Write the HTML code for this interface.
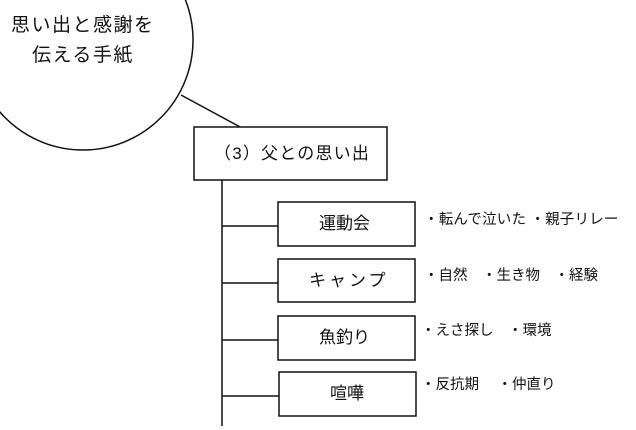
<!DOCTYPE html>
<html><head><meta charset="utf-8"><style>
body{margin:0;width:636px;height:430px;background:#fff;overflow:hidden;position:relative;font-family:"Liberation Sans","Noto Sans CJK JP",sans-serif;color:#111}
.t{position:absolute;white-space:nowrap;line-height:1}
</style></head><body>
<svg width="636" height="430" style="position:absolute;left:0;top:0">
<g fill="none" stroke="#111" stroke-width="1.5">
<circle cx="83" cy="40" r="110"/>
<line x1="181" y1="95" x2="242" y2="128"/>
<rect x="194" y="127" width="193" height="53" fill="#fff"/>
<line x1="222" y1="180" x2="222" y2="426"/>
<line x1="222" y1="226" x2="278" y2="226"/>
<line x1="222" y1="283" x2="278" y2="283"/>
<line x1="222" y1="340" x2="278" y2="340"/>
<line x1="222" y1="396" x2="279" y2="396"/>
<rect x="278" y="202" width="137" height="44"/>
<rect x="278" y="259" width="137" height="43"/>
<rect x="278" y="316" width="137" height="44"/>
<rect x="279" y="372" width="137" height="44"/>
</g></svg>
<div class="t" style="left:11px;top:16px;font-size:19px;letter-spacing:1.5px">思い出と感謝を</div>
<div class="t" style="left:32px;top:46px;font-size:19px;letter-spacing:1.5px">伝える手紙</div>
<div class="t" style="left:214px;top:145px;font-size:17px;letter-spacing:1.2px">（3）父との思い出</div>
<div class="t" style="left:319px;top:215px;font-size:17px">運動会</div>
<div class="t" style="left:309px;top:272px;font-size:17px;letter-spacing:3px">キャンプ</div>
<div class="t" style="left:319px;top:329px;font-size:17px">魚釣り</div>
<div class="t" style="left:330px;top:385px;font-size:17px">喧嘩</div>
<div class="t" style="left:424px;top:213px;font-size:14.5px;letter-spacing:0.2px">・転んで泣いた ・親子リレー</div>
<div class="t" style="left:424px;top:269px;font-size:14.5px">・自然　・生き物　・経験</div>
<div class="t" style="left:421px;top:324px;font-size:14.5px">・えさ探し　・環境</div>
<div class="t" style="left:421px;top:378px;font-size:14.5px">・反抗期　 ・仲直り</div>
</body></html>
